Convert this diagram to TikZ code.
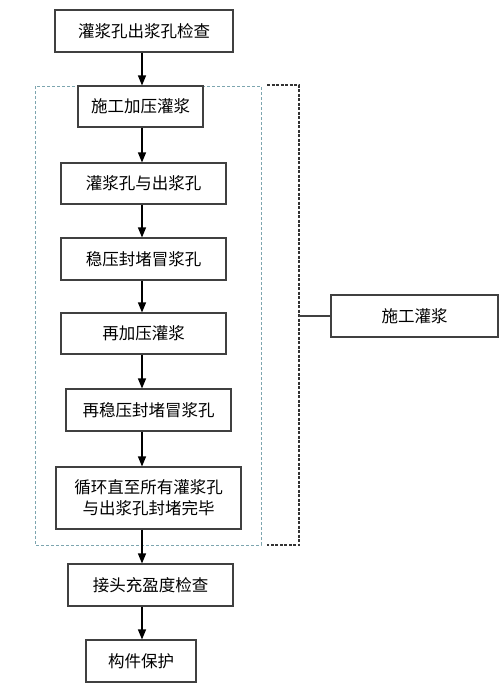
\documentclass[tikz,border=0pt]{standalone}
\usepackage{fontspec}
\newfontfamily\cjk{Noto Sans CJK SC}
\usetikzlibrary{arrows.meta,positioning}

\begin{document}
\begin{tikzpicture}[
  x=1pt,y=-1pt,
  box/.style={rectangle,draw=black!75,line width=1.1pt,inner sep=0pt,minimum width=165pt,minimum height=42pt,align=center,font=\cjk\fontsize{16.5}{21}\selectfont},
  arrow/.style={-{Triangle[length=10pt,width=8pt]},line width=1.1pt},
  bluedash/.style={draw={rgb,255:red,125;green,165;blue,175},line width=1pt,dash pattern=on 3pt off 2pt},
  blackdash/.style={draw=black!80,line width=1.6pt,dash pattern=on 3pt off 1.5pt}
]
\useasboundingbox (0,0) rectangle (500,685);

% Column axis
\coordinate (axis) at (142,0);

% Frames
\draw[bluedash] (35,86) rectangle (261,545);
\draw[blackdash] (267,85) -- (299,85) -- (299,545) -- (267,545);
\coordinate (brk) at (299,316);

% Steps
\node[box,minimum width=178pt] (check) at (144,31) {灌浆孔出浆孔检查};
\node[box,minimum width=125pt,minimum height=41pt] (press) at (140.5,106.5) {施工加压灌浆};
\node[box,minimum height=41pt] (holes) at (143.5,183.5) {灌浆孔与出浆孔};
\node[box] (seal) at (143.5,259) {稳压封堵冒浆孔};
\node[box,minimum height=41pt] (repress) at (143.5,333.5) {再加压灌浆};
\node[box] (reseal) at (148.5,410) {再稳压封堵冒浆孔};
\node[box,minimum width=185pt,minimum height=62pt] (loop) at (148.5,498) {循环直至所有灌浆孔\\与出浆孔封堵完毕};
\node[box] (fill) at (150.5,585) {接头充盈度检查};
\node[box,minimum width=110pt] (protect) at (141,661) {构件保护};

% Side label
\node[box,minimum width=167pt] (grout) at (414.5,316) {施工灌浆};

% Arrows
\draw[arrow] (check.south -| axis) -- (press.north -| axis);
\draw[arrow] (press.south -| axis) -- (holes.north -| axis);
\draw[arrow] (holes.south -| axis) -- (seal.north -| axis);
\draw[arrow] (seal.south -| axis) -- (repress.north -| axis);
\draw[arrow] (repress.south -| axis) -- (reseal.north -| axis);
\draw[arrow] (reseal.south -| axis) -- (loop.north -| axis);
\draw[arrow] (loop.south -| axis) -- (fill.north -| axis);
\draw[arrow] (fill.south -| axis) -- (protect.north -| axis);
\draw[line width=1.1pt,draw=black!75] (grout.west) -- (grout.west -| brk);

\end{tikzpicture}
\end{document}
